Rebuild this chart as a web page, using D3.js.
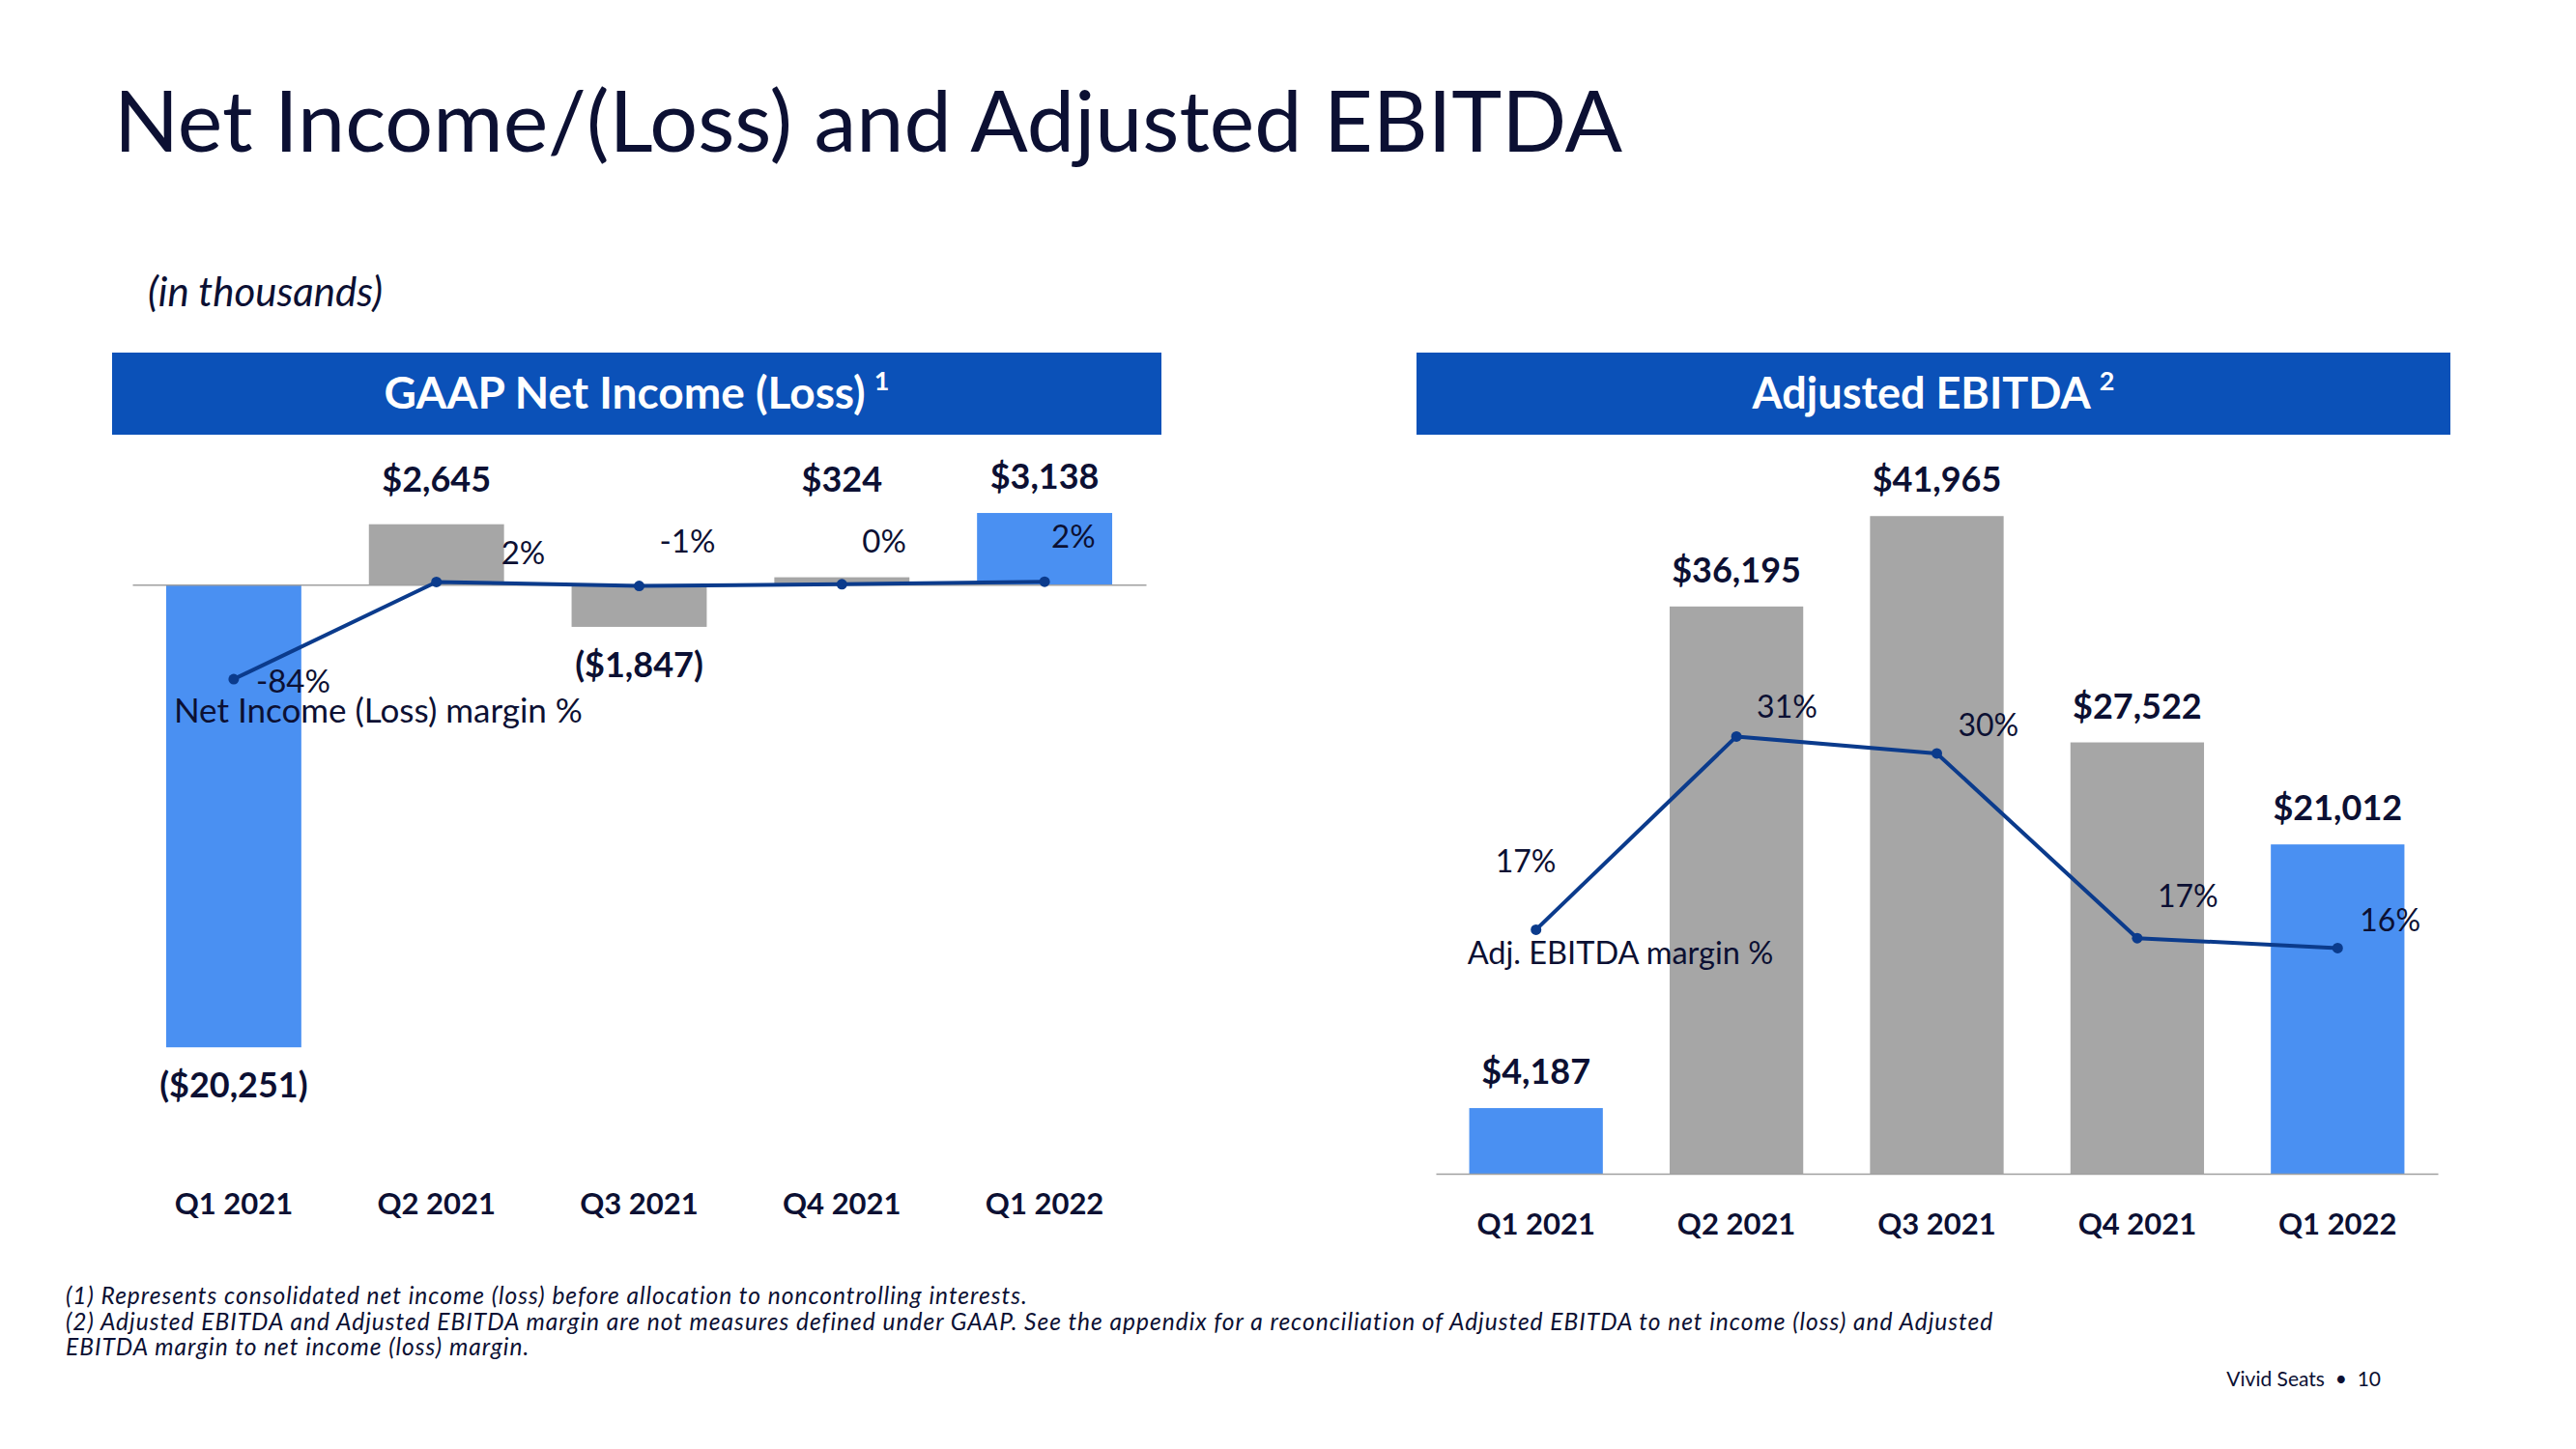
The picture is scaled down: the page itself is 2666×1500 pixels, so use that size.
<!DOCTYPE html>
<html>
<head>
<meta charset="utf-8">
<script src="https://cdn.jsdelivr.net/npm/d3@7"></script>
<style>
  html, body { margin: 0; padding: 0; background: #ffffff; }
  svg { display: block; font-family: Lato, "Open Sans", sans-serif; }
</style>
</head>
<body>
<svg id="chart" width="2666" height="1500"></svg>
<script>
// ---------- data ----------
const quarters = ["Q1 2021", "Q2 2021", "Q3 2021", "Q4 2021", "Q1 2022"];
const highlightQuarters = ["Q1 2021", "Q1 2022"];
const netIncome = [-20251, 2645, -1847, 324, 3138];          // $ thousands
const netIncomeMargin = [-84.0, 2.2, -1.3, 0.2, 2.4];        // %
const adjEbitda = [4187, 36195, 41965, 27522, 21012];        // $ thousands
const adjEbitdaMargin = [17.3, 31.0, 29.8, 16.7, 16.0];      // %
const titleText = "Net Income/(Loss) and Adjusted EBITDA";
const unitsText = "(in thousands)";
const leftHeader = "GAAP Net Income (Loss)", leftSup = "1";
const rightHeader = "Adjusted EBITDA", rightSup = "2";
const leftLegend = "Net Income (Loss) margin %";
const rightLegend = "Adj. EBITDA margin %";
const footnotes = [
  "(1) Represents consolidated net income (loss) before allocation to noncontrolling interests.",
  "(2) Adjusted EBITDA and Adjusted EBITDA margin are not measures defined under GAAP. See the appendix for a reconciliation of Adjusted EBITDA to net income (loss) and Adjusted",
  "EBITDA margin to net income (loss) margin."
];
const footerText = "Vivid Seats  \u2022  10";

// ---------- styles / layout ----------
const NAVY = "#0c1033", HEADER = "#0b51b8", BLUE = "#4a90f2", GRAY = "#a6a6a6", LINE = "#0b3b8c";
// label offsets (px) for the margin % labels relative to their points (layout, not data)
const leftPctOffsets = [[23, 14], [67, -18], [21, -35], [21, -33], [7, -35]];
const rightPctOffsets = [[-42, -59], [21, -19], [22, -18], [21, -32], [23, -17]];

const svg = d3.select("#chart");
const fmtMoney = v => v < 0 ? "($" + d3.format(",")(-v) + ")" : "$" + d3.format(",")(v);
const fmtPct = v => (Math.round(v) < 0 ? "-" : "") + Math.abs(Math.round(v)) + "%";
const barColor = q => highlightQuarters.includes(q) ? BLUE : GRAY;

// Title
svg.append("text").attr("x", 118).attr("y", 157)
  .attr("font-size", 88).attr("fill", NAVY).text(titleText);
svg.append("text").attr("x", 153).attr("y", 317)
  .attr("font-size", 42).attr("font-style", "italic").attr("fill", NAVY).text(unitsText);

function header(x0, x1, label, sup, size) {
  svg.append("rect").attr("x", x0).attr("y", 365).attr("width", x1 - x0).attr("height", 85).attr("fill", HEADER);
  const t = svg.append("text").attr("x", (x0 + x1) / 2).attr("y", 423)
    .attr("text-anchor", "middle").attr("fill", "#fff").attr("font-weight", 700).attr("font-size", size);
  t.append("tspan").text(label);
  t.append("tspan").attr("font-size", 27).attr("dx", 9).attr("dy", -19).text(sup);
}
header(116, 1202, leftHeader, leftSup, 46);
header(1466, 2536, rightHeader, rightSup, 45);

// ---------- LEFT: GAAP Net Income ----------
const xL = d3.scaleBand().domain(quarters).range([137, 1186]).paddingInner(1 / 3).paddingOuter(1 / 6);
const yL = d3.scaleLinear().domain([-25000, 5000]).range([1196.5, 487]);
const mL = d3.scaleLinear().domain([-500, 100]).range([1188.5, 488.3]);
const gL = svg.append("g");

gL.selectAll("rect.bar").data(quarters).join("rect").attr("class", "bar")
  .attr("x", q => xL(q)).attr("width", xL.bandwidth())
  .attr("y", (q, i) => Math.min(yL(netIncome[i]), yL(0)))
  .attr("height", (q, i) => Math.abs(yL(netIncome[i]) - yL(0)))
  .attr("fill", barColor);

// zero axis line
gL.append("g").attr("transform", `translate(0,${yL(0)})`)
  .call(d3.axisBottom(xL).tickSize(0).tickFormat(""))
  .call(g => g.select(".domain").attr("stroke", "#a0a0a0").attr("stroke-width", 1.5))
  .call(g => g.selectAll(".tick").remove());

// category labels
gL.append("g").attr("transform", "translate(0,1257)")
  .call(d3.axisBottom(xL).tickSize(0).tickPadding(0))
  .call(g => g.select(".domain").remove())
  .call(g => g.selectAll("text").attr("dy", 0).attr("y", 0)
    .attr("font-family", "Lato, sans-serif").attr("font-size", 31).attr("font-weight", 700).attr("fill", NAVY));

// value labels
gL.selectAll("text.val").data(quarters).join("text").attr("class", "val")
  .attr("x", q => xL(q) + xL.bandwidth() / 2)
  .attr("y", (q, i) => netIncome[i] >= 0 ? Math.min(yL(netIncome[i]), yL(3000)) - 25 : yL(netIncome[i]) + 52)
  .attr("text-anchor", "middle").attr("font-size", 36).attr("font-weight", 700).attr("fill", NAVY)
  .text((q, i) => fmtMoney(netIncome[i]));

// margin line
const lineL = d3.line().x((d, i) => xL(quarters[i]) + xL.bandwidth() / 2).y(d => mL(d));
gL.append("path").datum(netIncomeMargin).attr("d", lineL)
  .attr("fill", "none").attr("stroke", LINE).attr("stroke-width", 4).attr("stroke-linejoin", "round");
gL.selectAll("circle").data(netIncomeMargin).join("circle")
  .attr("cx", (d, i) => xL(quarters[i]) + xL.bandwidth() / 2).attr("cy", d => mL(d)).attr("r", 5.5).attr("fill", LINE);
gL.selectAll("text.pct").data(netIncomeMargin).join("text").attr("class", "pct")
  .attr("x", (d, i) => xL(quarters[i]) + xL.bandwidth() / 2 + leftPctOffsets[i][0])
  .attr("y", (d, i) => mL(d) + leftPctOffsets[i][1])
  .attr("font-size", 33).attr("fill", NAVY).text(d => fmtPct(d));
gL.append("text")
  .attr("x", xL(quarters[0]) + xL.bandwidth() / 2 - 62).attr("y", mL(netIncomeMargin[0]) + 45)
  .attr("font-size", 35).attr("fill", NAVY).text(leftLegend);

// ---------- RIGHT: Adjusted EBITDA ----------
const xR = d3.scaleBand().domain(quarters).range([1486, 2523]).paddingInner(1 / 3).paddingOuter(1 / 6);
const yR = d3.scaleLinear().domain([0, 45000]).range([1215, 485]);
const mR = d3.scaleLinear().domain([0, 50]).range([1215, 485]);
const gR = svg.append("g");

gR.selectAll("rect.bar").data(quarters).join("rect").attr("class", "bar")
  .attr("x", q => xR(q)).attr("width", xR.bandwidth())
  .attr("y", (q, i) => yR(adjEbitda[i]))
  .attr("height", (q, i) => yR(0) - yR(adjEbitda[i]))
  .attr("fill", barColor);

gR.append("g").attr("transform", `translate(0,${yR(0)})`)
  .call(d3.axisBottom(xR).tickSize(0).tickFormat(""))
  .call(g => g.select(".domain").attr("stroke", "#a0a0a0").attr("stroke-width", 1.5))
  .call(g => g.selectAll(".tick").remove());

gR.append("g").attr("transform", "translate(0,1278)")
  .call(d3.axisBottom(xR).tickSize(0).tickPadding(0))
  .call(g => g.select(".domain").remove())
  .call(g => g.selectAll("text").attr("dy", 0).attr("y", 0)
    .attr("font-family", "Lato, sans-serif").attr("font-size", 31).attr("font-weight", 700).attr("fill", NAVY));

gR.selectAll("text.val").data(quarters).join("text").attr("class", "val")
  .attr("x", q => xR(q) + xR.bandwidth() / 2)
  .attr("y", (q, i) => yR(adjEbitda[i]) - 25)
  .attr("text-anchor", "middle").attr("font-size", 36).attr("font-weight", 700).attr("fill", NAVY)
  .text((q, i) => fmtMoney(adjEbitda[i]));

const lineR = d3.line().x((d, i) => xR(quarters[i]) + xR.bandwidth() / 2).y(d => mR(d));
gR.append("path").datum(adjEbitdaMargin).attr("d", lineR)
  .attr("fill", "none").attr("stroke", LINE).attr("stroke-width", 4).attr("stroke-linejoin", "round");
gR.selectAll("circle").data(adjEbitdaMargin).join("circle")
  .attr("cx", (d, i) => xR(quarters[i]) + xR.bandwidth() / 2).attr("cy", d => mR(d)).attr("r", 5.5).attr("fill", LINE);
gR.selectAll("text.pct").data(adjEbitdaMargin).join("text").attr("class", "pct")
  .attr("x", (d, i) => xR(quarters[i]) + xR.bandwidth() / 2 + rightPctOffsets[i][0])
  .attr("y", (d, i) => mR(d) + rightPctOffsets[i][1])
  .attr("font-size", 32).attr("fill", NAVY).text(d => fmtPct(d));
gR.append("text")
  .attr("x", xR(quarters[0]) + xR.bandwidth() / 2 - 71).attr("y", mR(adjEbitdaMargin[0]) + 36)
  .attr("font-size", 32.5).attr("fill", NAVY).text(rightLegend);

// ---------- footnotes ----------
svg.selectAll("text.fn").data(footnotes).join("text").attr("class", "fn")
  .attr("x", 68).attr("y", (d, i) => 1350 + i * 26.5)
  .attr("font-size", 24.5).attr("letter-spacing", 1).attr("font-style", "italic").attr("fill", NAVY).text(d => d);
svg.append("text").attr("x", 2464).attr("y", 1435).attr("text-anchor", "end")
  .attr("font-size", 21).attr("fill", NAVY).attr("xml:space", "preserve").text(footerText);
</script>
</body>
</html>
